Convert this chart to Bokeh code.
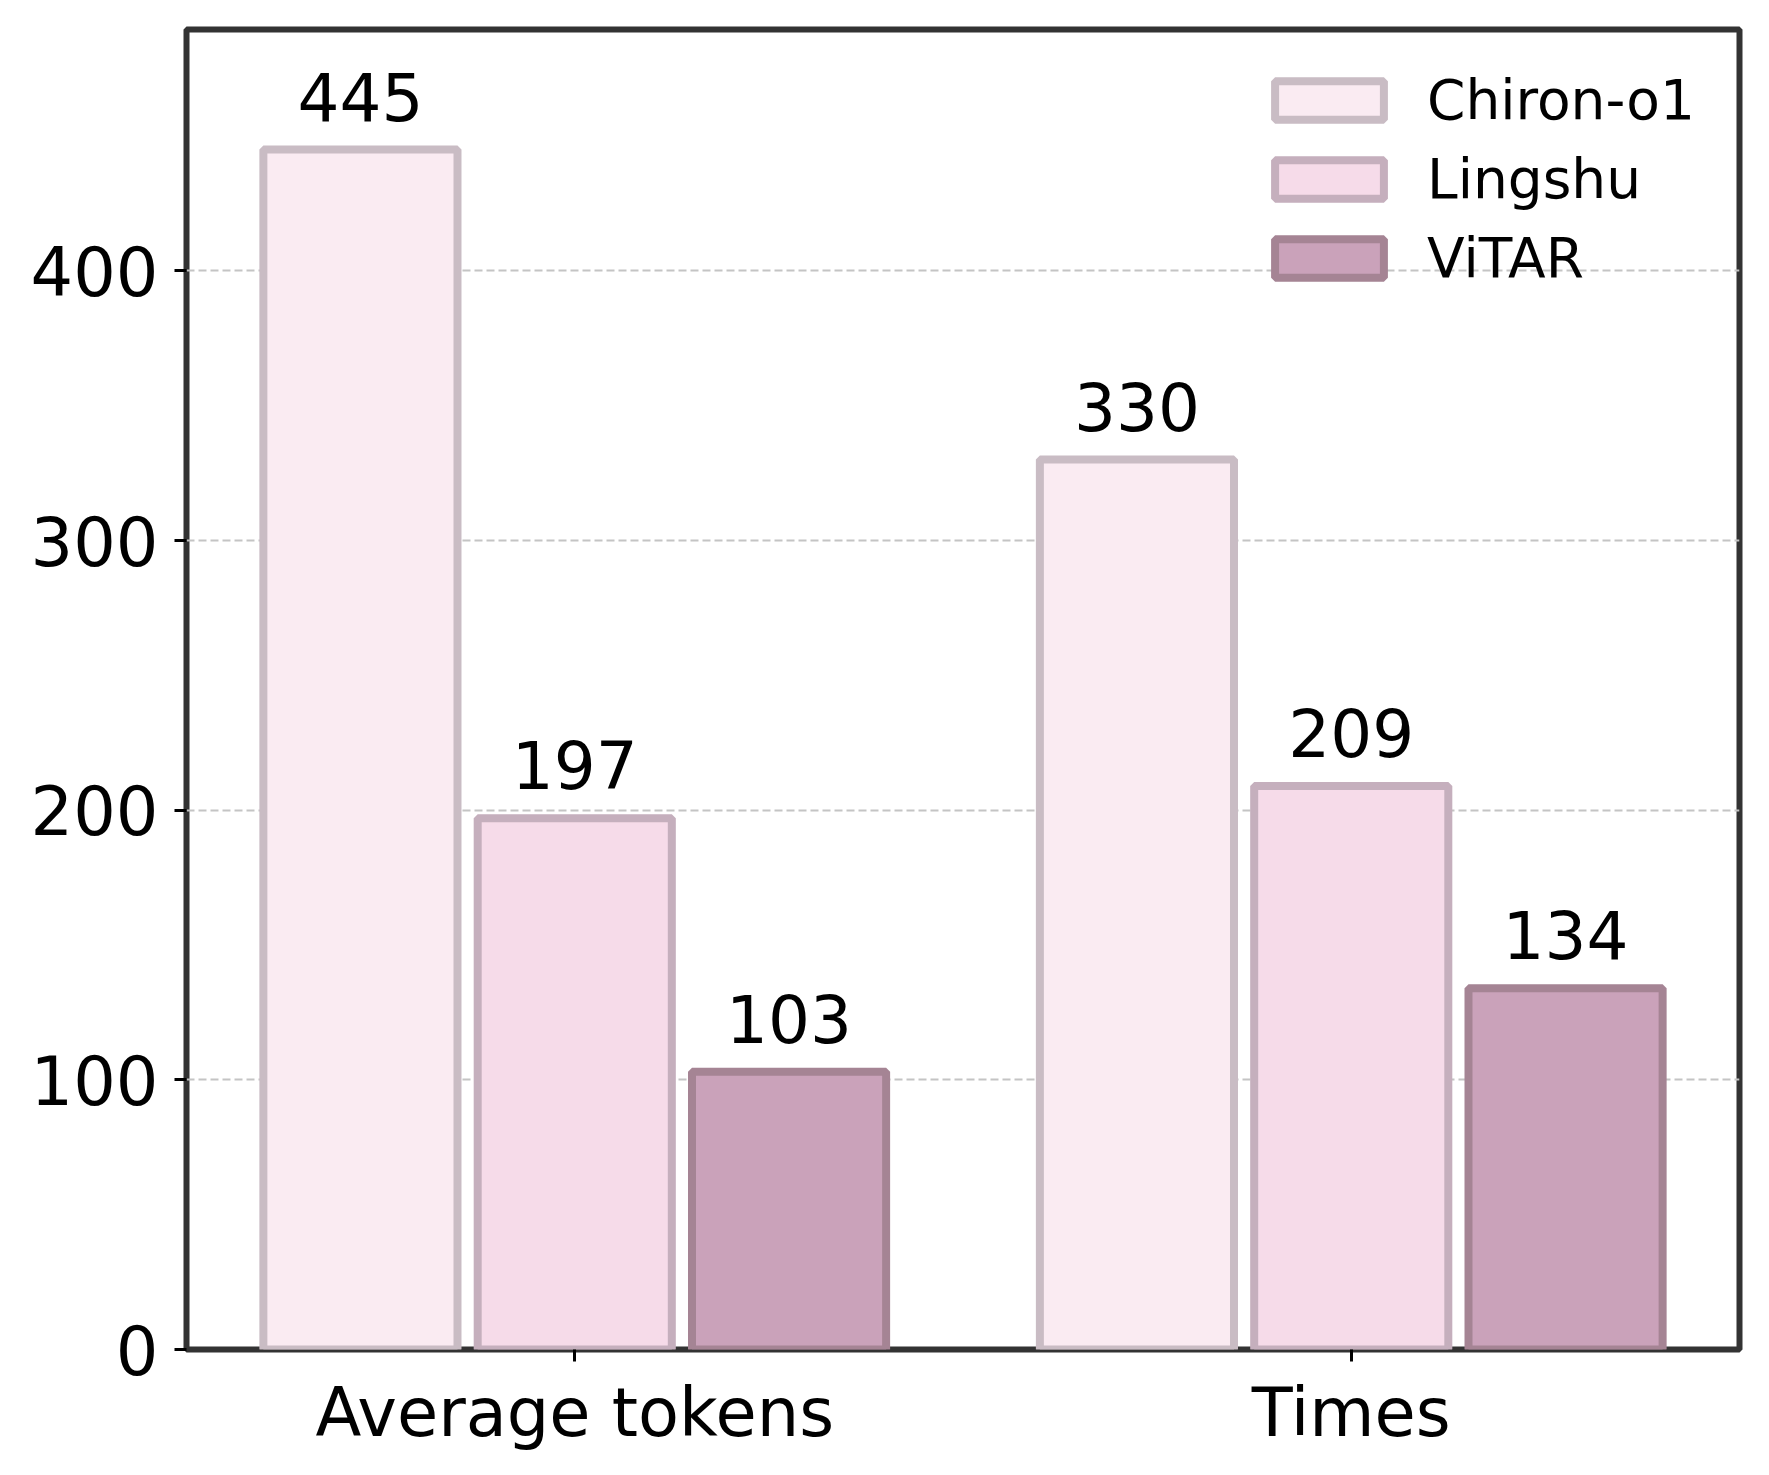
from bokeh.plotting import figure
from bokeh.models import (ColumnDataSource, FactorRange, Range1d, FixedTicker, Legend,
                          LegendItem, LabelSet)
from bokeh.core.properties import value
from bokeh.transform import dodge
from bokeh.embed import file_html
from bokeh.resources import INLINE

categories = ["Average tokens", "Times"]
models = ["Chiron-o1", "Lingshu", "ViTAR"]
chiron = [445, 330]
lingshu = [197, 209]
vitar = [103, 134]
y_ticks = [0, 100, 200, 300, 400]

fills = ["#faebf2", "#f6dbe9", "#caa2ba"]
edges = ["#c9bcc4", "#c5afbd", "#a58494"]
offsets = [-0.276, 0.0, 0.276]
FONT = "DejaVu Sans"

src = ColumnDataSource(dict(cat=categories, chiron=chiron, lingshu=lingshu, vitar=vitar,
                            chiron_t=[str(v) for v in chiron],
                            lingshu_t=[str(v) for v in lingshu],
                            vitar_t=[str(v) for v in vitar]))

p = figure(x_range=FactorRange(*categories, range_padding=0),
           y_range=Range1d(0, max(chiron) * 1.1),
           width=1758, height=1463, output_backend="svg", toolbar_location=None,
           min_border_left=186, min_border_top=29, min_border_right=19, min_border_bottom=114)

cols = ["chiron", "lingshu", "vitar"]
items = []
for col, name, f, e, off in zip(cols, models, fills, edges, offsets):
    r = p.vbar(x=dodge("cat", off, range=p.x_range), top=col, width=0.25, bottom=0,
               source=src, fill_color=f, line_color=e, line_width=8)
    items.append(LegendItem(label=name, renderers=[r]))
    lbl = LabelSet(x=dodge("cat", off, range=p.x_range), y=col, text=col + "_t", source=src,
                   text_align="center", text_baseline="alphabetic", y_offset=29,
                   text_font=value(FONT), text_font_size="66px", text_color="black")
    p.add_layout(lbl)

legend = Legend(items=items, location="top_right", glyph_width=136, glyph_height=48,
                label_standoff=30, label_width=273, spacing=15, padding=0, margin=39,
                label_text_font=FONT, label_text_font_size="55px", label_text_color="black",
                border_line_alpha=0, background_fill_alpha=0)
p.add_layout(legend)

p.outline_line_color = "#333333"
p.outline_line_width = 6
p.outline_line_alpha = 1

for ax in (p.xaxis[0], p.yaxis[0]):
    ax.axis_line_color = None
    ax.major_tick_line_color = "black"
    ax.major_tick_line_width = 3
    ax.major_tick_out = 12
    ax.major_tick_in = 0
    ax.minor_tick_line_color = None
    ax.major_label_text_font = FONT
    ax.major_label_text_font_size = "67px"
    ax.major_label_text_color = "black"

p.yaxis[0].ticker = FixedTicker(ticks=y_ticks)
p.yaxis[0].major_label_standoff = 16
p.xaxis[0].major_label_standoff = 12
p.xaxis[0].group_text_font_size = "0px"

p.xgrid.grid_line_color = None
p.ygrid.ticker = FixedTicker(ticks=y_ticks[1:])
p.ygrid.grid_line_color = "#c4c4c4"
p.ygrid.grid_line_width = 2
p.ygrid.grid_line_dash = "8 4"

open("out.html", "w").write(file_html(p, INLINE))
